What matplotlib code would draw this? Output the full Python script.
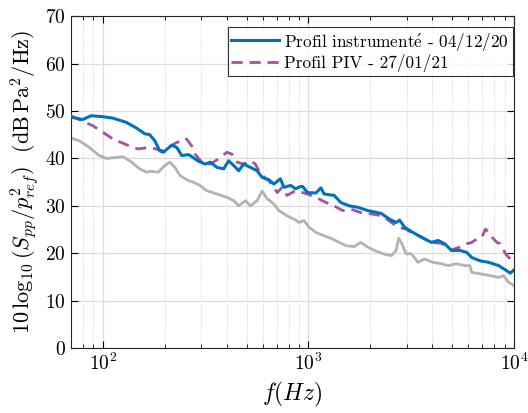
import numpy as np
import matplotlib
matplotlib.use('Agg')
import matplotlib.pyplot as plt
from matplotlib import rcParams

#%% data (f in Hz, level in dB)
f_instr = [70, 79.8, 87.8, 100, 111.9, 130, 145.6, 160, 169, 179, 189, 197, 216, 229, 242, 261,
           266, 292, 315, 333, 359, 387, 409, 433, 458, 484, 522, 563, 595, 642, 679, 731, 760,
           819, 866, 917, 935, 990, 1087, 1149, 1192, 1334, 1438, 1581, 1738, 1945, 2260, 2479,
           2672, 2775, 2936, 3163, 3540, 3963, 4275, 4606, 4962, 5454, 5883, 6229, 6844, 7520,
           8418, 9232, 9580, 10000]
L_instr = [48.7, 48.2, 49.0, 48.8, 48.5, 47.6, 46.4, 45.2, 45.0, 43.7, 41.6, 41.3, 42.8, 42.3, 40.6, 40.8,
           40.6, 39.4, 38.8, 39.2, 38.1, 37.8, 39.5, 38.5, 37.4, 38.8, 38.1, 37.4, 36.0, 35.5, 34.6, 35.7, 33.9,
           34.3, 33.6, 34.1, 34.1, 32.8, 32.7, 33.8, 32.5, 32.2, 30.7, 30.0, 29.7, 29.0, 28.4, 27.2,
           26.5, 27.0, 25.5, 24.6, 23.4, 22.3, 22.7, 22.0, 20.6, 20.6, 20.2, 19.1, 18.4, 18.1,
           17.4, 16.3, 15.8, 16.5]

f_piv = [70, 79.8, 89.4, 100, 112, 130, 148, 169, 197, 229, 251, 255, 270, 281, 303, 333, 365, 401,
         425, 450, 484, 522, 552, 584, 642, 706, 744, 787, 866, 990, 1087, 1217, 1334, 1466, 1612,
         1791, 2015, 2300, 2531, 2730, 2984, 3163, 3540, 3963, 4437, 4962, 5454, 5883, 6229, 6597,
         6985, 7255, 7520, 7800, 8260, 8580, 9090, 9580, 10000]
L_piv = [49.0, 47.8, 46.9, 45.5, 44.1, 42.9, 42.0, 42.3, 41.6, 43.4, 43.7, 44.1, 42.7, 40.9, 39.2, 38.8, 39.9, 41.3,
         40.9, 39.2, 38.8, 39.5, 38.8, 36.7, 35.3, 32.8, 33.9, 32.2, 33.2, 32.5, 31.8, 30.7, 30.0, 29.0, 29.3,
         28.6, 28.3, 27.9, 26.5, 25.5, 25.1, 24.4, 23.4, 22.3, 22.1, 20.7, 21.3, 22.0, 22.3, 23.0,
         23.4, 25.1, 24.4, 23.4, 22.3, 22.0, 19.9, 18.8, 18.3]

f_ref = [70, 77, 86, 96, 104, 116, 125, 138, 151, 163, 172, 186, 200, 212, 224, 237, 261, 275, 297,
         320, 359, 401, 433, 458, 494, 522, 563, 595, 630, 679, 718, 787, 866, 900, 951, 1006, 1087,
         1192, 1311, 1412, 1522, 1671, 1791, 1945, 2096, 2300, 2531, 2672, 2747, 2850, 2984, 3163,
         3410, 3670, 4027, 4437, 4784, 5250, 5760, 6100, 6229, 6985, 7660, 8418, 8900, 9400, 10000]
L_ref = [44.3, 43.7, 42.3, 40.6, 40.0, 40.2, 40.4, 39.2, 37.8, 37.1, 37.3, 37.1, 38.5, 39.2, 38.1, 36.4, 35.3, 35.0, 34.3,
         33.2, 32.5, 31.8, 31.1, 30.0, 31.1, 30.0, 31.1, 33.1, 31.5, 30.4, 29.0, 27.9, 27.0, 26.5, 26.9, 25.5, 24.4,
         23.7, 23.0, 22.3, 21.6, 21.4, 22.3, 21.3, 20.6, 19.9, 19.5, 20.6, 23.2, 22.0, 19.9, 19.9,
         18.1, 18.8, 18.1, 17.8, 17.4, 17.8, 17.4, 17.4, 16.0, 15.6, 15.3, 14.9, 15.3, 13.9, 13.2]

labels = [r'Profil instrument$\acute{\mathrm{e}}$ - 04/12/20', 'Profil PIV - 27/01/21']

#%% plotting options
rcParams['mathtext.fontset'] = 'cm'
rcParams['font.family'] = ['cmr10', 'DejaVu Serif']
rcParams['axes.formatter.use_mathtext'] = True
rcParams['axes.unicode_minus'] = False

fig = plt.figure(figsize=(5.28, 4.13), dpi=100)
ax = fig.add_axes([0.1345, 0.157, 0.839, 0.804])

ax.plot(f_ref, L_ref, color='#b3b3b3', lw=2, zorder=2)
ax.plot(f_instr, L_instr, color='#0072BD', lw=2.2, label=labels[0], zorder=4)
ax.plot(f_piv, L_piv, color='#A652A0', lw=2, ls=(0, (4, 2.5)), label=labels[1], zorder=3)

ax.set_xscale('log')
ax.set_xlim(70, 1e4)
ax.set_ylim(0, 70)
ax.set_yticks(np.arange(0, 71, 10))

ax.grid(which='major', color='#dcdcdc', lw=0.9)
ax.grid(which='minor', axis='x', color='#cfcfcf', lw=0.7, ls=':')
ax.set_axisbelow(True)
ax.tick_params(which='both', direction='in', top=True, right=True, labelsize=14)
ax.tick_params(which='major', length=5)
ax.tick_params(which='minor', length=3)
for s in ax.spines.values():
    s.set_color('#262626')
    s.set_linewidth(0.8)

ax.set_xlabel(r'$f(Hz)$', fontsize=17)
ax.set_ylabel(r'$10\,\log_{10}(S_{pp}/p^2_{ref})\ \ (\mathrm{dB\,Pa}^2/\mathrm{Hz})$', fontsize=16, labelpad=3)

leg = ax.legend(loc='upper right', bbox_to_anchor=(0.997, 0.967), fontsize=12.4, frameon=True,
                fancybox=False, handlelength=2.8, borderpad=0.2, labelspacing=0.1,
                handletextpad=0.3, borderaxespad=0)
leg.get_frame().set_edgecolor('black')
leg.get_frame().set_linewidth(0.8)

plt.savefig('out.png', dpi=100)
